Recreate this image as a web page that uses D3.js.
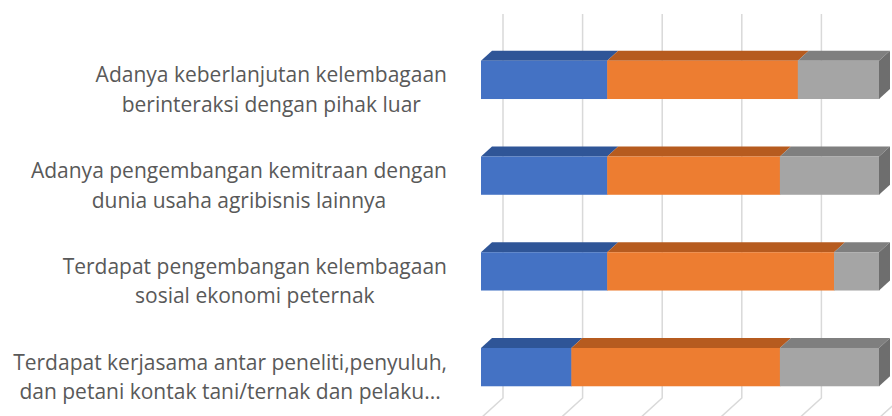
<!DOCTYPE html>
<html>
<head>
<meta charset="utf-8">
<script src="https://cdn.jsdelivr.net/npm/d3@7"></script>
<style>
  body { margin: 0; background: #fff; }
  svg { display: block; }
</style>
</head>
<body>
<div id="chart"></div>
<script>
// categories, top to bottom (each one split into its lines)
const categories = [
    ["Adanya keberlanjutan kelembagaan", "berinteraksi dengan pihak luar"],
    ["Adanya pengembangan kemitraan dengan", "dunia usaha agribisnis lainnya"],
    ["Terdapat pengembangan kelembagaan", "sosial ekonomi peternak"],
    ["Terdapat kerjasama antar peneliti,penyuluh,", "dan petani kontak tani/ternak dan pelaku..."]
];
// percentage shares
const series1 = [31.7, 31.7, 31.7, 22.7];
const series2 = [47.9, 43.4, 57.0, 52.4];
const series3 = [20.4, 24.9, 11.3, 24.9];
const gridTicks = [0, 20, 40, 60, 80, 100];

const width = 892;
const height = 416;

const frontColors = ["#4472C4", "#ED7D31", "#A5A5A5"];
const topColors = ["#2F5597", "#B65B1F", "#7F7F7F"];
const sideColor = "#6E6E6E";

// depth of the bars and of the back wall
const bdx = 11, bdy = 10;
const wdx = 22, wdy = 20;

const svg = d3.select("#chart").append("svg")
    .attr("width", width)
    .attr("height", height);

const keys = categories.map((c, i) => "c" + i);

const x = d3.scaleLinear().domain([0, 100]).range([481, 879]);
const y = d3.scaleBand()
    .domain(keys)
    .range([32, 415])
    .paddingInner(0.6)
    .paddingOuter(0.3);

// back wall gridlines + floor lines
const wallTop = 14, wallBottom = 398;
const grid = svg.append("g");
gridTicks.forEach(t => {
    const gx = x(t) + wdx;
    grid.append("path")
        .attr("d", `M${gx},${wallTop} L${gx},${wallBottom} L${gx - wdx},${wallBottom + wdy}`)
        .attr("fill", "none")
        .attr("stroke", "#D9D9D9")
        .attr("stroke-width", 1.5);
});

// stacked data
const rows = keys.map((k, i) => ({ key: k, values: [series1[i], series2[i], series3[i]] }));

const bars = svg.append("g");
rows.forEach(row => {
    const y0 = y(row.key);
    const h = y.bandwidth();
    let acc = 0;
    row.values.forEach((v, j) => {
        const xa = x(acc), xb = x(acc + v);
        acc += v;
        // top face
        bars.append("path")
            .attr("d", `M${xa},${y0} L${xa + bdx},${y0 - bdy} L${xb + bdx},${y0 - bdy} L${xb},${y0} Z`)
            .attr("fill", topColors[j]);
        // front face
        bars.append("rect")
            .attr("x", xa)
            .attr("y", y0)
            .attr("width", xb - xa + 0.5)
            .attr("height", h)
            .attr("fill", frontColors[j]);
        // side face on the last segment
        if (j === row.values.length - 1) {
            bars.append("path")
                .attr("d", `M${xb},${y0} L${xb + bdx},${y0 - bdy} L${xb + bdx},${y0 + h - bdy} L${xb},${y0 + h} Z`)
                .attr("fill", sideColor);
        }
    });
});

// category labels, centred lines, block right aligned
const labelRight = 447;
const lineGap = 29.5;
categories.forEach((lines, i) => {
    const cy = y(keys[i]) + y.bandwidth() / 2 + 10;
    const g = svg.append("g");
    const texts = lines.map((line, k) => g.append("text")
        .attr("y", cy + (k - (lines.length - 1) / 2) * lineGap)
        .attr("dy", "0.35em")
        .attr("text-anchor", "middle")
        .style("font-family", "'Open Sans', sans-serif")
        .style("font-size", "21px")
        .style("fill", "#595959")
        .text(line));
    const maxW = d3.max(texts, t => t.node().getComputedTextLength());
    texts.forEach(t => t.attr("x", labelRight - maxW / 2));
});
</script>
</body>
</html>
